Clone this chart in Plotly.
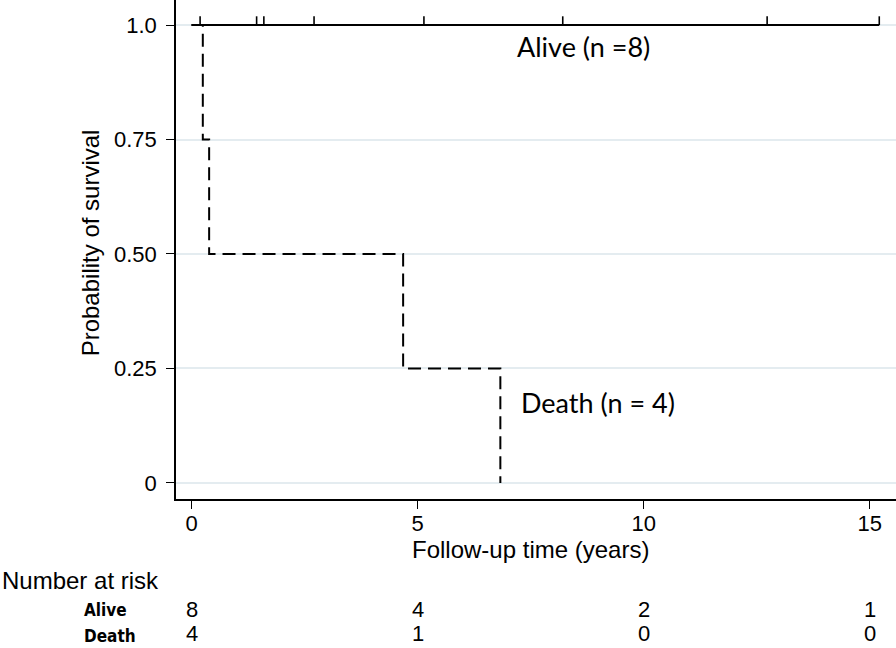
import plotly.graph_objects as go

# ---- data ----
alive_censor_times = [0.19, 1.44, 1.60, 2.71, 5.14, 8.21, 12.73, 15.21]
alive_label = "Alive (n =8)"
death_event_times = [0.25, 0.39, 4.68, 6.83]
death_survival = [0.75, 0.50, 0.25, 0.0]
death_label = "Death (n = 4)"
risk_times = [0, 5, 10, 15]
risk_alive = [8, 4, 2, 1]
risk_death = [4, 1, 0, 0]
x_ticks = [0, 5, 10, 15]
y_ticks = [0, 0.25, 0.5, 0.75, 1.0]
y_ticktext = ["0", "0.25", "0.50", "0.75", "1.0"]

TICKFONT = dict(family="Liberation Sans, Arial, sans-serif", size=22, color="#000")
TITLEFONT = dict(family="Liberation Sans, Arial, sans-serif", size=24, color="#000")
LBLFONT = dict(family="Lato, Open Sans, sans-serif", size=27, color="#000")
ROWFONT = dict(family="DejaVu Sans Condensed, DejaVu Sans, sans-serif", size=17, color="#000")

# step function for death group
dx = [0]
dy = [1.0]
prev = 1.0
for t, s in zip(death_event_times, death_survival):
    dx += [t, t]
    dy += [prev, s]
    prev = s

fig = go.Figure()

# Alive: flat line at 1.0 up to last censored time
fig.add_trace(go.Scatter(
    x=[0, alive_censor_times[-1]], y=[1.0, 1.0], mode="lines",
    line=dict(color="#000", width=2), showlegend=False, hoverinfo="skip"))
# censor marks (upward ticks)
fig.add_trace(go.Scatter(
    x=alive_censor_times, y=[1.0] * len(alive_censor_times), mode="markers",
    marker=dict(size=0.1, color="#000"),
    error_y=dict(type="data", symmetric=False,
                 array=[0.019] * len(alive_censor_times),
                 arrayminus=[0] * len(alive_censor_times),
                 width=0, thickness=1.6, color="#000"),
    showlegend=False, hoverinfo="skip"))

# Death: dashed step line
fig.add_trace(go.Scatter(
    x=dx, y=dy, mode="lines",
    line=dict(color="#000", width=2, dash="13px,7px"),
    showlegend=False, hoverinfo="skip"))

C = dict(showarrow=False, xanchor="center", yanchor="middle")
annotations = [
    dict(x=8.67, y=0.952, xref="x", yref="y", text=alive_label, font=LBLFONT, **C),
    dict(x=9.0, y=0.175, xref="x", yref="y", text=death_label, font=LBLFONT, **C),
    dict(x=-0.119, y=0.513, xref="paper", yref="paper", text="Probability of survival",
         textangle=-90, font=TITLEFONT, **C),
    dict(x=0.492, y=-0.102, xref="paper", yref="paper", text="Follow-up time (years)",
         font=TITLEFONT, **C),
    dict(x=-0.2444, y=-0.164, xref="paper", yref="paper", text="Number at risk",
         xanchor="left", yanchor="middle", showarrow=False, font=TITLEFONT),
    dict(x=-0.1306, y=-0.222, xref="paper", yref="paper", text="<b>Alive</b>",
         xanchor="left", yanchor="middle", showarrow=False, font=ROWFONT),
    dict(x=-0.1306, y=-0.2986, xref="paper", yref="paper", text="<b>Death</b>",
         xanchor="left", yanchor="bottom", showarrow=False, font=ROWFONT),
]
for t, a, d in zip(risk_times, risk_alive, risk_death):
    annotations.append(dict(x=t, y=-0.222, xref="x", yref="paper", text=str(a),
                            font=TICKFONT, **C))
    annotations.append(dict(x=t, y=-0.2986, xref="x", yref="paper", text=str(d),
                            font=TICKFONT, showarrow=False, xanchor="center",
                            yanchor="bottom"))

fig.update_layout(
    width=896, height=648,
    margin=dict(l=176, r=0, t=0, b=149),
    paper_bgcolor="white", plot_bgcolor="white",
    annotations=annotations,
    xaxis=dict(range=[-0.343, 15.58], tickvals=x_ticks, ticks="outside", ticklen=8,
               tickwidth=1.3, tickcolor="#000", showgrid=False, zeroline=False,
               showline=True, linecolor="#000", linewidth=1.5,
               tickfont=TICKFONT, automargin=False, ticklabelstandoff=-4),
    yaxis=dict(range=[-0.035, 1.0546], tickvals=y_ticks, ticktext=y_ticktext,
               ticks="outside", ticklen=8, tickwidth=1.3, tickcolor="#000",
               showgrid=True, gridcolor="#e4ecf0", gridwidth=1.5, zeroline=False,
               showline=True, linecolor="#000", linewidth=1.5,
               tickfont=TICKFONT, automargin=False, ticklabelstandoff=5),
)

fig.write_html("out.html", config={"displayModeBar": False},
               post_script="document.body.style.margin='0';document.body.style.overflow='hidden';")
